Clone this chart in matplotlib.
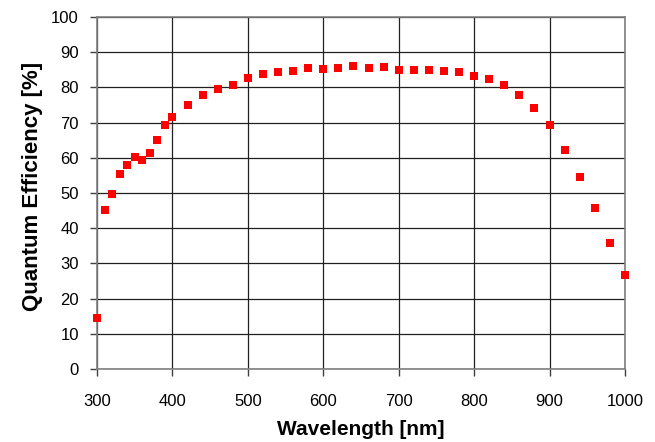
import numpy as np
import matplotlib
matplotlib.use('Agg')
import matplotlib.pyplot as plt

plt.rcParams['font.family'] = ['Liberation Sans', 'DejaVu Sans']

wavelength = [300, 310, 320, 330, 340, 350, 360, 370, 380, 390, 400,
              420, 440, 460, 480, 500, 520, 540, 560, 580, 600, 620,
              640, 660, 680, 700, 720, 740, 760, 780, 800, 820, 840,
              860, 880, 900, 920, 940, 960, 980, 1000]
qe = [14.5, 45.2, 49.8, 55.5, 58.0, 60.1, 59.3, 61.4, 65.0, 69.2, 71.5,
      75.1, 77.8, 79.5, 80.7, 82.6, 83.9, 84.4, 84.7, 85.4, 85.2, 85.6,
      86.1, 85.6, 85.8, 84.9, 84.9, 85.0, 84.7, 84.5, 83.3, 82.3, 80.6,
      77.8, 74.2, 69.2, 62.2, 54.5, 45.8, 35.9, 26.7]

fig = plt.figure(figsize=(6.55, 4.42), dpi=100)
ax = fig.add_axes([97/655, 1 - 369/442, (625 - 97)/655, (369 - 17)/442])

ax.plot(wavelength, qe, 's', color='#ff0000', markersize=5.6,
        markeredgewidth=0, zorder=3, clip_on=False)

ax.set_xlim(300, 1000)
ax.set_ylim(0, 100)
ax.set_xticks(np.arange(300, 1001, 100))
ax.set_yticks(np.arange(0, 101, 10))
ax.grid(True, color='#202020', linewidth=0.9)
for s in ax.spines.values():
    s.set_color('#808080')
    s.set_linewidth(1.2)
ax.tick_params(direction='out', length=5, width=1, color='#404040',
               labelsize=12)
ax.tick_params(axis='x', pad=13)
ax.tick_params(axis='y', pad=8)

ax.set_xlabel('Wavelength [nm]', fontsize=15, fontweight='bold', labelpad=8)
ax.set_ylabel('Quantum Efficiency [%]', fontsize=16, fontweight='bold')
ax.yaxis.set_label_coords(-0.102, 0.518)

fig.savefig('out.png', dpi=100)
